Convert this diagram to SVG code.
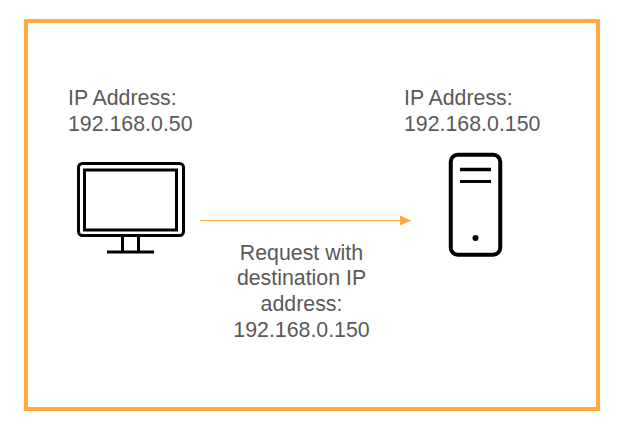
<svg xmlns="http://www.w3.org/2000/svg" width="623" height="438" viewBox="0 0 623 438">
<style>
text{font-family:"Liberation Sans",Arial,sans-serif;font-size:21.33px;fill:#595959}
.k{fill:none;stroke:#000;stroke-width:3}
</style>
<defs><marker id="ah" markerUnits="userSpaceOnUse" markerWidth="12" markerHeight="12" refX="11" refY="6" orient="auto"><path d="M0 1L11 6L0 11Z" fill="#ffa940"/></marker></defs>
<rect width="623" height="438" fill="#fff"/>
<rect id="frame" x="26" y="21" width="572" height="388" fill="none" stroke="#ffa940" stroke-width="4"/>
<g id="client">
<rect class="k" x="78.500" y="163.500" width="105" height="72" rx="4"/>
<rect class="k" x="84.500" y="170" width="92" height="60"/>
<path class="k" d="M122.500 236V252M138.500 236V252M107 252H154"/>
<text x="68" y="105">IP Address:</text><text x="68" y="131">192.168.0.50</text>
</g>
<g id="server">
<rect x="450.750" y="154.750" width="49.500" height="100" rx="7" fill="none" stroke="#000" stroke-width="4"/>
<path d="M460 169.500H491" stroke="#000" stroke-width="3.500"/><path d="M460 181.500H491" stroke="#000" stroke-width="3"/>
<circle cx="475.500" cy="238" r="3" fill="#000"/>
<text x="404" y="105">IP Address:</text><text x="404" y="131">192.168.0.150</text>
</g>
<g id="connectors"><line x1="200" y1="220.500" x2="411" y2="220.500" stroke="#ffa940" marker-end="url(#ah)"/></g>
<g id="label" text-anchor="middle">
<text x="301.500" y="260">Request with</text><text x="301.500" y="285">destination IP</text><text x="301.500" y="311">address:</text><text x="301.500" y="337">192.168.0.150</text>
</g>
</svg>
